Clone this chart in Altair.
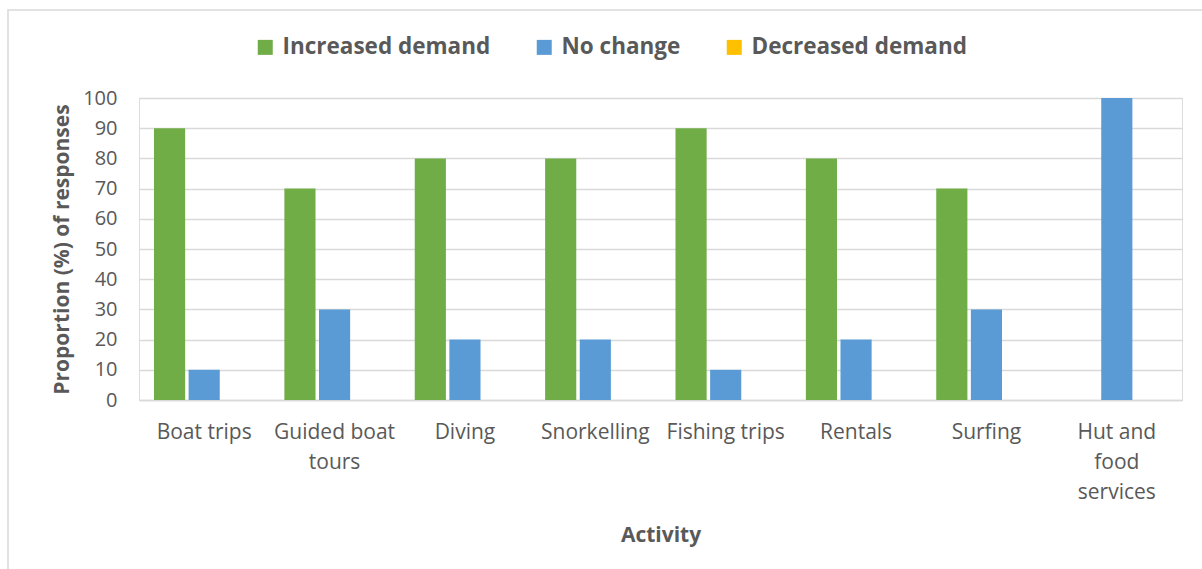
import altair as alt
import pandas as pd

categories = ["Boat trips", "Guided boat tours", "Diving", "Snorkelling",
              "Fishing trips", "Rentals", "Surfing", "Hut and food services"]
series = ["Increased demand", "No change", "Decreased demand"]
increased = [90, 70, 80, 80, 90, 80, 70, 0]
no_change = [10, 30, 20, 20, 10, 20, 30, 100]
decreased = [0, 0, 0, 0, 0, 0, 0, 0]
colors = ["#70AD47", "#5B9BD5", "#FFC000"]
label_lines = {
    "Guided boat tours": ["Guided boat", "tours"],
    "Hut and food services": ["Hut and", "food", "services"],
}

rows = []
for i, c in enumerate(categories):
    for s, vals in zip(series, [increased, no_change, decreased]):
        rows.append({"Activity": c, "Series": s, "Value": vals[i]})
df = pd.DataFrame(rows)

label_expr = ""
for k, v in label_lines.items():
    arr = "[" + ",".join("'" + x + "'" for x in v) + "]"
    label_expr += f"datum.label == '{k}' ? {arr} : "
label_expr += "datum.label"

FONT = "Open Sans"
TXT = "#595959"

bars = alt.Chart(df).mark_bar().encode(
    x=alt.X("Activity:N", sort=categories,
            scale=alt.Scale(paddingInner=0.23, paddingOuter=0.115),
            axis=alt.Axis(title="Activity", labelAngle=0, ticks=False,
                          labelExpr=label_expr, labelPadding=21,
                          labelLineHeight=30, labelFontSize=21,
                          titleFontSize=21, titleFontWeight="bold",
                          titlePadding=22, domainColor="#D9D9D9",
                          domainWidth=1.5, labelColor=TXT, titleColor=TXT,
                          labelFont=FONT, titleFont=FONT)),
    xOffset=alt.XOffset("Series:N", sort=series,
                        scale=alt.Scale(paddingInner=0.1)),
    y=alt.Y("Value:Q", scale=alt.Scale(domain=[0, 100]),
            axis=alt.Axis(title="Proportion (%) of responses", values=list(range(0, 101, 10)),
                          ticks=False, domain=False, labelPadding=22,
                          labelFontSize=20, titleFontSize=21, titleFontWeight="bold",
                          titlePadding=10, gridColor="#D9D9D9", gridWidth=1.5,
                          labelColor=TXT, titleColor=TXT,
                          labelFont=FONT, titleFont=FONT)),
    color=alt.Color("Series:N", sort=series,
                    scale=alt.Scale(domain=series, range=colors),
                    legend=alt.Legend(title=None, orient="none", direction="horizontal",
                                      legendX=115, legendY=-62,
                                      symbolType="square", symbolSize=225,
                                      symbolStrokeWidth=0, labelLimit=0,
                                      labelFontSize=22.5, labelFontWeight="bold",
                                      labelColor=TXT, labelFont=FONT,
                                      columnPadding=42, labelOffset=6)),
)

border = alt.Chart(pd.DataFrame({"a": [0]})).mark_rect(
    fill=None, stroke="#D9D9D9", strokeWidth=1.5, clip=False
).encode(
    x=alt.value(-131), x2=alt.value(1080), y=alt.value(-88), y2=alt.value(490)
)

chart = alt.layer(border, bars).properties(
    width=1043, height=302,
    autosize=alt.AutoSizeParams(type="none"),
    padding={"left": 139, "top": 98, "right": 20, "bottom": 169},
).configure_view(stroke=None).configure(background="white")

chart.save("out.html", embed_options={"renderer": "svg", "actions": False})
